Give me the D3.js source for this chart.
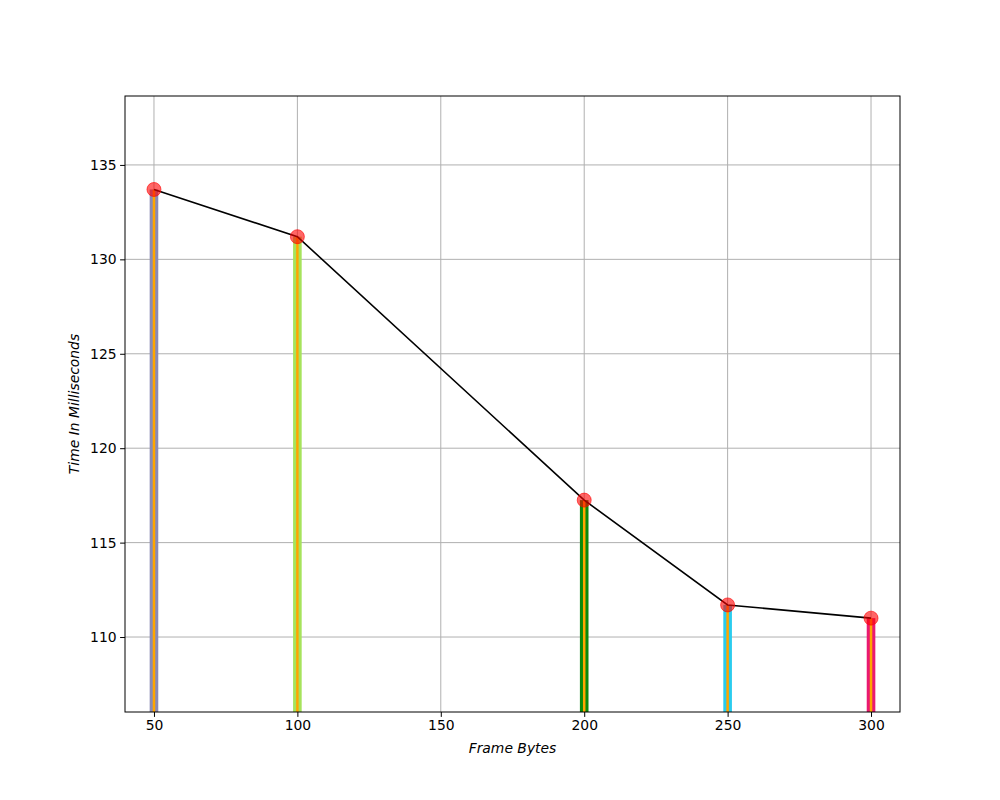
<!DOCTYPE html>
<html>
<head>
<meta charset="utf-8">
<script src="https://cdn.jsdelivr.net/npm/d3@7"></script>
<style>
  body { margin: 0; background: #fff; }
  text { font-family: "DejaVu Sans", sans-serif; }
</style>
</head>
<body>
<script>
var frameBytes = [50, 100, 200, 250, 300];
var timeMs = [133.7, 131.2, 117.25, 111.7, 111.0];
var barColors = ["#8a8ab4", "#a6e35c", "#0a8a0a", "#2accee", "#ea1a70"];
var xTicks = [50, 100, 150, 200, 250, 300];
var yTicks = [110, 115, 120, 125, 130, 135];

var margin = {top: 96, right: 100, bottom: 88, left: 125},
	width = 1000 - margin.left - margin.right,
	height = 800 - margin.top - margin.bottom;

var x = d3.scaleLinear()
	.domain([39.9, 310.1])
	.range([0, width]);

var y = d3.scaleLinear()
	.domain([106.03, 138.65])
	.range([height, 0]);

var svg = d3.select('body')
	.append('svg')
	.attr('width', 1000)
	.attr('height', 800);

var main = svg.append('g')
	.attr('transform', 'translate(' + margin.left + ',' + margin.top + ')');

// grid
main.append('g')
	.selectAll('line.gx')
	.data(xTicks)
	.enter().append('line')
	.attr('x1', function(d) { return x(d); })
	.attr('x2', function(d) { return x(d); })
	.attr('y1', 0).attr('y2', height)
	.attr('stroke', '#b0b0b0').attr('stroke-width', 1);

main.append('g')
	.selectAll('line.gy')
	.data(yTicks)
	.enter().append('line')
	.attr('y1', function(d) { return y(d); })
	.attr('y2', function(d) { return y(d); })
	.attr('x1', 0).attr('x2', width)
	.attr('stroke', '#b0b0b0').attr('stroke-width', 1);

// bars
var barW = 3;
main.append('g')
	.selectAll('rect')
	.data(frameBytes)
	.enter().append('rect')
	.attr('x', function(d) { return x(d - barW / 2); })
	.attr('width', function(d) { return x(d + barW / 2) - x(d - barW / 2); })
	.attr('y', function(d, i) { return y(timeMs[i]); })
	.attr('height', function(d, i) { return height - y(timeMs[i]); })
	.attr('fill', function(d, i) { return barColors[i]; });

// orange centre stripe
main.append('g')
	.selectAll('line')
	.data(frameBytes)
	.enter().append('line')
	.attr('x1', function(d) { return x(d); })
	.attr('x2', function(d) { return x(d); })
	.attr('y1', function(d, i) { return y(timeMs[i]); })
	.attr('y2', height)
	.attr('stroke', '#ffa500')
	.attr('stroke-width', 2.5);

// line
var line = d3.line()
	.x(function(d, i) { return x(frameBytes[i]); })
	.y(function(d) { return y(d); });

main.append('path')
	.datum(timeMs)
	.attr('d', line)
	.attr('fill', 'none')
	.attr('stroke', '#000')
	.attr('stroke-width', 1.6);

main.append('g')
	.selectAll('circle')
	.data(timeMs)
	.enter().append('circle')
	.attr('cx', function(d, i) { return x(frameBytes[i]); })
	.attr('cy', function(d) { return y(d); })
	.attr('r', 7)
	.attr('fill', 'red')
	.attr('fill-opacity', 0.6)
	.attr('stroke', 'red')
	.attr('stroke-opacity', 0.6);

// axes
var xAxis = d3.axisBottom(x).tickValues(xTicks).tickSize(4.9).tickPadding(3.5);
var yAxis = d3.axisLeft(y).tickValues(yTicks).tickSize(4.9).tickPadding(3.5);

var gx = main.append('g')
	.attr('transform', 'translate(0,' + height + ')')
	.call(xAxis);
var gy = main.append('g').call(yAxis);

[gx, gy].forEach(function(g) {
	g.select('.domain').remove();
	g.selectAll('text').style('font-size', '13.9px').attr('fill', '#000');
	g.selectAll('line').attr('stroke', '#000').attr('stroke-width', 1);
});

main.append('rect')
	.attr('width', width).attr('height', height)
	.attr('fill', 'none').attr('stroke', '#000').attr('stroke-width', 1);

main.append('text')
	.attr('text-anchor', 'middle')
	.attr('x', width / 2)
	.attr('y', height + 41)
	.style('font-size', '13.9px')
	.style('font-style', 'italic')
	.text('Frame Bytes');

main.append('text')
	.attr('text-anchor', 'middle')
	.attr('transform', 'translate(' + -46 + ',' + (height / 2) + ')rotate(-90)')
	.style('font-size', '13.9px')
	.style('font-style', 'italic')
	.text('Time In Milliseconds');
</script>
</body>
</html>
